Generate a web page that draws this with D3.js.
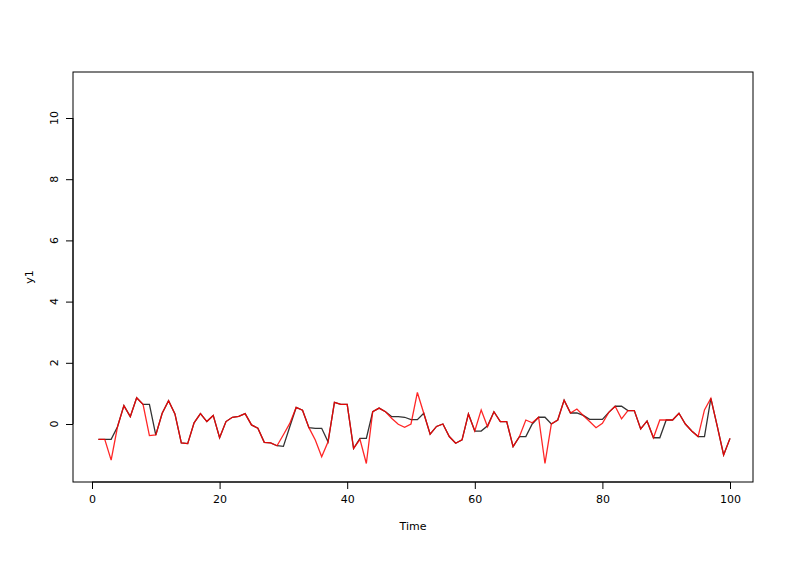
<!DOCTYPE html>
<html><head><meta charset="utf-8">
<script src="https://cdn.jsdelivr.net/npm/d3@7"></script>
<style>body{margin:0;background:#fff}text{font-family:"DejaVu Sans",sans-serif;font-size:11px;fill:#000}</style>
</head><body><div id="wrapper"></div>
<script>
const y1 = [-0.50,-0.50,-0.50,-0.09,0.60,0.24,0.86,0.64,0.64,-0.36,
  0.35,0.76,0.33,-0.62,-0.64,0.04,0.34,0.08,0.28,-0.45,
  0.08,0.22,0.25,0.34,-0.03,-0.14,-0.60,-0.62,-0.71,-0.73,
  -0.09,0.54,0.45,-0.12,-0.14,-0.14,-0.58,0.71,0.64,0.64,
  -0.80,-0.47,-0.47,0.40,0.52,0.40,0.24,0.24,0.22,0.14,
  0.14,0.35,-0.33,-0.08,0.00,-0.41,-0.63,-0.52,0.33,-0.23,
  -0.23,-0.06,0.40,0.08,0.08,-0.74,-0.41,-0.41,0.00,0.22,
  0.22,0.00,0.13,0.78,0.36,0.36,0.28,0.15,0.15,0.15,
  0.38,0.58,0.58,0.44,0.44,-0.16,0.10,-0.45,-0.45,0.13,
  0.13,0.35,0.00,-0.23,-0.41,-0.41,0.84,-0.07,-1.01,-0.47];
const y2 = [-0.50,-0.50,-1.18,-0.09,0.60,0.24,0.86,0.64,-0.38,-0.36,
  0.35,0.76,0.33,-0.62,-0.64,0.04,0.34,0.08,0.28,-0.45,
  0.08,0.22,0.25,0.34,-0.03,-0.14,-0.60,-0.62,-0.71,-0.35,
  0.02,0.54,0.45,-0.12,-0.52,-1.07,-0.58,0.71,0.64,0.64,
  -0.80,-0.50,-1.29,0.40,0.52,0.40,0.18,-0.01,-0.11,0.00,
  1.03,0.35,-0.33,-0.08,0.00,-0.41,-0.63,-0.52,0.33,-0.23,
  0.46,-0.09,0.40,0.08,0.08,-0.74,-0.41,0.13,0.04,0.22,
  -1.29,0.00,0.13,0.78,0.36,0.49,0.28,0.08,-0.12,0.02,
  0.38,0.58,0.17,0.44,0.44,-0.16,0.10,-0.45,0.13,0.13,
  0.13,0.35,0.00,-0.23,-0.41,0.46,0.84,-0.07,-1.01,-0.47];
const time = d3.range(1, 101);
const xTicks = [0, 20, 40, 60, 80, 100];
const yTicks = [0, 2, 4, 6, 8, 10];

const svg = d3.select("#wrapper").append("svg").attr("width", 800).attr("height", 566);
const x = d3.scaleLinear().domain([0, 100]).range([92, 730]);
const y = d3.scaleLinear().domain([0, 10]).range([424, 118]);

svg.append("rect").attr("x", 73).attr("y", 72).attr("width", 680).attr("height", 410)
  .attr("fill", "none").attr("stroke", "#000");

svg.append("g").attr("transform", "translate(0,482)")
  .call(d3.axisBottom(x).tickValues(xTicks).tickSize(7).tickPadding(6))
  .call(g => g.select(".domain").attr("d", `M${x(0)},0H${x(100)}`));
svg.append("g").attr("transform", "translate(73,0)")
  .call(d3.axisLeft(y).tickValues(yTicks).tickSize(7).tickFormat(""))
  .call(g => g.select(".domain").attr("d", `M0,${y(0)}V${y(10)}`));
svg.selectAll(".ylab").data(yTicks).enter().append("text")
  .attr("transform", d => `translate(58,${y(d)}) rotate(-90)`)
  .attr("text-anchor", "middle").text(d => d);
svg.selectAll(".domain").attr("stroke", "#000");
svg.selectAll(".tick line").attr("stroke", "#000");
svg.selectAll(".tick text").style("font-size", "11px");

svg.append("text").attr("x", 413).attr("y", 530).attr("text-anchor", "middle").text("Time");
svg.append("text").attr("transform", "translate(33,277) rotate(-90)").attr("text-anchor", "middle").text("y1");

const line = d3.line().x((d, i) => x(time[i])).y(d => y(d));
svg.append("path").datum(y1).attr("d", line).attr("fill", "none").attr("stroke", "#333").attr("stroke-width", 1.3);
svg.append("path").datum(y2).attr("d", line).attr("fill", "none").attr("stroke", "#f00").attr("stroke-opacity", 0.85).attr("stroke-width", 1.3);
</script></body></html>
